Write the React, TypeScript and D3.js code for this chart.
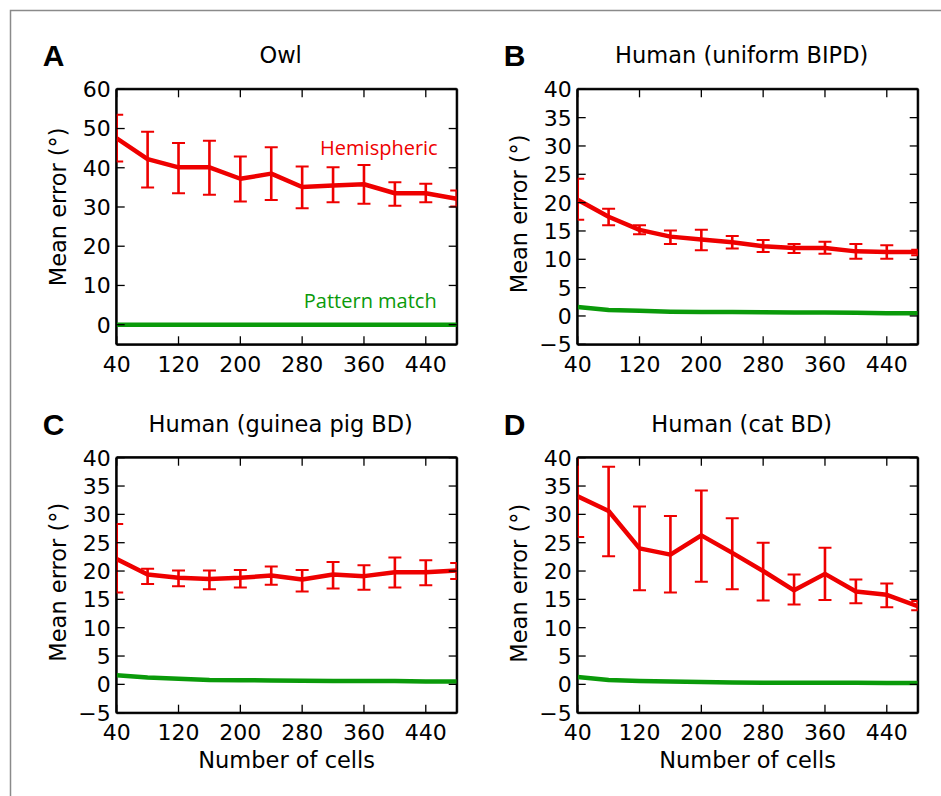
import React from "react";
import * as d3 from "d3";

const cells = [40, 80, 120, 160, 200, 240, 280, 320, 360, 400, 440, 480];
const xTicks = [40, 120, 200, 280, 360, 440];
const yTicksOwl = [0, 10, 20, 30, 40, 50, 60];
const yTicksHuman = [-5, 0, 5, 10, 15, 20, 25, 30, 35, 40];

const owlHemi = [47.5, 42.2, 40.1, 40.1, 37.2, 38.5, 35.1, 35.5, 35.8, 33.5, 33.5, 32.1];
const owlHemiHi = [53.5, 49.2, 46.3, 46.9, 42.9, 45.2, 40.3, 40.1, 40.7, 36.3, 35.9, 34.2];
const owlHemiLo = [41.6, 35.0, 33.5, 33.1, 31.4, 31.8, 29.7, 31.2, 30.8, 30.3, 31.2, 30.1];
const owlPattern = [0, 0, 0, 0, 0, 0, 0, 0, 0, 0, 0, 0];

const uniHemi = [20.5, 17.5, 15.2, 14.0, 13.5, 13.0, 12.3, 12.0, 12.0, 11.4, 11.3, 11.3];
const uniHemiHi = [24.2, 18.9, 16.0, 15.1, 15.2, 14.1, 13.4, 12.7, 13.1, 12.7, 12.5, 11.7];
const uniHemiLo = [17.0, 16.0, 14.4, 12.7, 11.6, 11.9, 11.3, 11.1, 11.0, 10.1, 10.1, 10.7];
const uniPattern = [1.6, 1.05, 0.9, 0.76, 0.7, 0.68, 0.65, 0.62, 0.6, 0.55, 0.5, 0.5];

const gpHemi = [22.1, 19.4, 18.8, 18.6, 18.8, 19.2, 18.5, 19.4, 19.1, 19.8, 19.8, 20.1];
const gpHemiHi = [28.3, 20.4, 20.1, 20.1, 20.2, 20.8, 20.2, 21.6, 21.0, 22.4, 21.9, 21.4];
const gpHemiLo = [16.2, 17.7, 17.3, 16.8, 17.1, 17.6, 16.4, 16.9, 16.7, 17.1, 17.5, 18.6];
const gpPattern = [1.6, 1.2, 1.0, 0.76, 0.74, 0.7, 0.65, 0.6, 0.6, 0.6, 0.5, 0.5];

const catHemi = [33.2, 30.6, 24.0, 22.9, 26.3, 23.2, 20.0, 16.6, 19.5, 16.4, 15.8, 13.8];
const catHemiHi = [40.3, 38.4, 31.4, 29.7, 34.2, 29.3, 25.0, 19.4, 24.1, 18.5, 17.8, 14.7];
const catHemiLo = [26.0, 22.6, 16.6, 16.2, 18.1, 16.8, 14.8, 14.1, 14.9, 14.3, 13.6, 13.1];
const catPattern = [1.3, 0.76, 0.6, 0.5, 0.4, 0.35, 0.3, 0.3, 0.3, 0.28, 0.26, 0.25];

const RED = "#ee0000";
const GREEN = "#0a9a0a";
const FONT = "DejaVu Sans";

type PanelProps = {
  id: string;
  letter: string;
  title: string;
  left: number;
  top: number;
  yDomain: [number, number];
  yTicks: number[];
  hemi: number[];
  hi: number[];
  lo: number[];
  pattern: number[];
  showXLabel: boolean;
  showAnnot: boolean;
  yLabelCenterOffset: number;
};

const W = 340;
const H = 255;

function Panel(p: PanelProps) {
  const x = d3.scaleLinear().domain([40, 480]).range([0, W]);
  const y = d3.scaleLinear().domain(p.yDomain).range([H, 0]);
  const line = d3
    .line<number>()
    .x((_, i) => x(cells[i]))
    .y((d) => y(d));
  const clipId = `clip-${p.id}`;
  const tickLen = 8;
  return (
    <g transform={`translate(${p.left},${p.top})`}>
      <defs>
        <clipPath id={clipId}>
          <rect x={0} y={0} width={W} height={H} />
        </clipPath>
      </defs>
      <rect x={0} y={0} width={W} height={H} fill="none" stroke="#000" strokeWidth={2} />
      <g clipPath={`url(#${clipId})`}>
        <path d={line(p.pattern) || ""} fill="none" stroke={GREEN} strokeWidth={4.5} />
        <path d={line(p.hemi) || ""} fill="none" stroke={RED} strokeWidth={4.5} strokeLinejoin="round" />
        {cells.map((c, i) => (
          <g key={c}>
            <line x1={x(c)} x2={x(c)} y1={y(p.lo[i])} y2={y(p.hi[i])} stroke={RED} strokeWidth={2.6} />
            <line x1={x(c) - 6.5} x2={x(c) + 6.5} y1={y(p.lo[i])} y2={y(p.lo[i])} stroke={RED} strokeWidth={2} />
            <line x1={x(c) - 6.5} x2={x(c) + 6.5} y1={y(p.hi[i])} y2={y(p.hi[i])} stroke={RED} strokeWidth={2} />
          </g>
        ))}
      </g>
      {xTicks.map((t) => (
        <g key={`xt${t}`}>
          <line x1={x(t)} x2={x(t)} y1={H} y2={H - tickLen} stroke="#000" strokeWidth={1.3} />
          <line x1={x(t)} x2={x(t)} y1={0} y2={tickLen} stroke="#000" strokeWidth={1.3} />
          <text x={x(t)} y={H + 27.5} textAnchor="middle" fontFamily={FONT} fontSize={22}>
            {t}
          </text>
        </g>
      ))}
      {p.yTicks.map((t) => (
        <g key={`yt${t}`}>
          <line x1={0} x2={tickLen} y1={y(t)} y2={y(t)} stroke="#000" strokeWidth={1.3} />
          <line x1={W} x2={W - tickLen} y1={y(t)} y2={y(t)} stroke="#000" strokeWidth={1.3} />
          <text x={-6} y={y(t)} dy="0.36em" textAnchor="end" fontFamily={FONT} fontSize={22}>
            {t < 0 ? `\u2212${Math.abs(t)}` : t}
          </text>
        </g>
      ))}
      <line x1={-1} x2={-1} y1={0} y2={H} stroke="#000" strokeWidth={1} />
      <line x1={0} x2={W} y1={-1} y2={-1} stroke="#000" strokeWidth={1} />
      <line x1={W + 1} x2={W + 1} y1={0} y2={H} stroke="#000" strokeWidth={1} />
      <line x1={0} x2={W} y1={H + 1} y2={H + 1} stroke="#000" strokeWidth={1} />
      <text x={W / 2 - 6} y={-26} textAnchor="middle" fontFamily={FONT} fontSize={22.5}>
        {p.title}
      </text>
      <text x={-74} y={-23} fontFamily="Liberation Sans" fontWeight="bold" fontSize={30}>
        {p.letter}
      </text>
      <text
        transform={`translate(-51,${H / 2 + p.yLabelCenterOffset}) rotate(-90)`}
        textAnchor="middle"
        fontFamily={FONT}
        fontSize={22.5}
      >
        Mean error (°)
      </text>
      {p.showXLabel && (
        <text x={W / 2} y={H + 55} textAnchor="middle" fontFamily={FONT} fontSize={22.5}>
          Number of cells
        </text>
      )}
      {p.showAnnot && (
        <g>
          <text x={W - 19} y={66} textAnchor="end" fontFamily="Open Sans" fontSize={20} fill={RED}>
            Hemispheric
          </text>
          <text x={W - 20} y={219} textAnchor="end" fontFamily="Open Sans" fontSize={20} fill={GREEN}>
            Pattern match
          </text>
        </g>
      )}
    </g>
  );
}

export default function App() {
  return (
    <svg
      width={941}
      height={796}
      style={{ position: "absolute", left: 0, top: 0, display: "block", background: "#fff" }}
    >
      <rect x={0} y={0} width={941} height={796} fill="#fff" />
      <rect x={10.5} y={10.5} width={1000} height={1000} fill="none" stroke="#8a8a8a" strokeWidth={1.5} />
      <Panel
        id="a"
        letter="A"
        title="Owl"
        left={116.7}
        top={89.3}
        yDomain={[-5, 60]}
        yTicks={yTicksOwl}
        hemi={owlHemi}
        hi={owlHemiHi}
        lo={owlHemiLo}
        pattern={owlPattern}
        showXLabel={false}
        showAnnot={true}
        yLabelCenterOffset={-10}
      />
      <Panel
        id="b"
        letter="B"
        title="Human (uniform BIPD)"
        left={577.7}
        top={89.3}
        yDomain={[-5, 40]}
        yTicks={yTicksHuman}
        hemi={uniHemi}
        hi={uniHemiHi}
        lo={uniHemiLo}
        pattern={uniPattern}
        showXLabel={false}
        showAnnot={false}
        yLabelCenterOffset={-3}
      />
      <Panel
        id="c"
        letter="C"
        title="Human (guinea pig BD)"
        left={116.7}
        top={457.7}
        yDomain={[-5, 40]}
        yTicks={yTicksHuman}
        hemi={gpHemi}
        hi={gpHemiHi}
        lo={gpHemiLo}
        pattern={gpPattern}
        showXLabel={true}
        showAnnot={false}
        yLabelCenterOffset={-3}
      />
      <Panel
        id="d"
        letter="D"
        title="Human (cat BD)"
        left={577.7}
        top={457.7}
        yDomain={[-5, 40]}
        yTicks={yTicksHuman}
        hemi={catHemi}
        hi={catHemiHi}
        lo={catHemiLo}
        pattern={catPattern}
        showXLabel={true}
        showAnnot={false}
        yLabelCenterOffset={-2}
      />
    </svg>
  );
}
